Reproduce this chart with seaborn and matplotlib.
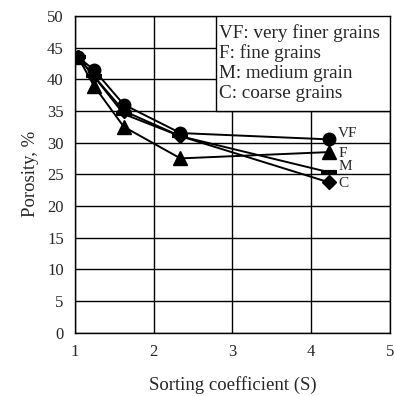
import matplotlib
matplotlib.use("Agg")
import matplotlib.pyplot as plt
import seaborn as sns
import pandas as pd
from matplotlib.patches import Rectangle

sns.set_style("white")
plt.rcParams['font.family'] = ['Liberation Serif', 'DejaVu Serif']

sorting = [1.04, 1.24, 1.62, 2.34, 4.23]
vf = [43.5, 41.5, 36.0, 31.5, 30.5]
f = [43.5, 39.0, 32.5, 27.5, 28.5]
m = [43.5, 40.5, 34.5, 31.0, 25.3]
c = [43.5, 40.5, 35.0, 31.0, 23.7]
series_names = ["VF", "F", "M", "C"]
label_y = [31.5, 28.3, 26.3, 23.5]
legend_lines = ["VF: very finer grains", "F: fine grains", "M: medium grain", "C: coarse grains"]

rows = []
for name, vals in zip(series_names, [vf, f, m, c]):
    for x, y in zip(sorting, vals):
        rows.append({"S": x, "Porosity": y, "Series": name})
df = pd.DataFrame(rows)

fig = plt.figure(figsize=(3.94, 3.96), dpi=100)
ax = fig.add_axes([0.19, 0.16, 0.80, 0.80])

markers = {"VF": "o", "F": "^", "M": "_", "C": "D"}
sizes = {"VF": 9, "F": 10, "M": 12, "C": 7}
for name, ly in zip(series_names, label_y):
    sub = df[df.Series == name]
    sns.lineplot(data=sub, x="S", y="Porosity", ax=ax, color="black", lw=1.4,
                 marker=markers[name], markersize=sizes[name], mew=3 if name == "M" else 1,
                 mec="black", mfc="black", legend=False, zorder=5)
    ax.text(sub.S.iloc[-1] + 0.11, ly, name, fontsize=11, va="center", ha="left", zorder=6)

ax.set_xlim(1, 5)
ax.set_ylim(0, 50)
ax.set_xticks([1, 2, 3, 4, 5])
ax.set_yticks(range(0, 51, 5))
ax.grid(True, color="black", lw=1.0)
ax.set_axisbelow(True)
for sp in ax.spines.values():
    sp.set_color("black")
    sp.set_linewidth(1.0)
ax.tick_params(labelsize=12, length=0, pad=8)
ax.set_xlabel("Sorting coefficient (S)", fontsize=13.5, labelpad=12)
ax.set_ylabel("Porosity, %", fontsize=13.5, labelpad=6)

# legend box
rect = Rectangle((2.79, 35.0), 5 - 2.79, 15.0, facecolor="white", edgecolor="black", lw=1.0, zorder=3)
ax.add_patch(rect)
for i, line in enumerate(legend_lines):
    ax.text(2.83, 47.3 - i * 3.2, line, fontsize=13.8, va="center", ha="left", zorder=4)

fig.savefig("out.png", dpi=100)
